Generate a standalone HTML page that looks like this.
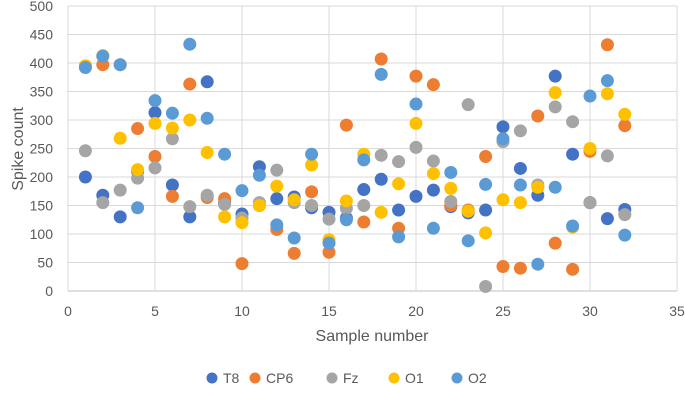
<!DOCTYPE html>
<html><head><meta charset="utf-8"><style>
body{margin:0;background:#fff;}
svg{display:block;font-family:"Liberation Sans",Arial,sans-serif;}
</style></head><body>
<svg id="chart" width="685" height="406">
<g id="grid"></g>
<g id="axes"></g>
<g id="marks"></g>
<text x="200" y="341" font-size="16" fill="#595959" text-anchor="middle" transform="translate(172,0)">Sample number</text>
<text x="0" y="0" font-size="16" fill="#595959" text-anchor="middle" transform="translate(23,149) rotate(-90)">Spike count</text>
<g id="legend"></g>
</svg>
<script>
const samples = [1,2,3,4,5,6,7,8,9,10,11,12,13,14,15,16,17,18,19,20,21,22,23,24,25,26,27,28,29,30,31,32];
const seriesNames = ["T8","CP6","Fz","O1","O2"];
const seriesColors = ["#4472C4","#ED7D31","#A5A5A5","#FFC000","#5B9BD5"];
const T8  = [200,168,130,210,313,186,130,367,155,135,218,162,165,146,138,128,178,196,142,166,177,148,137,142,288,215,168,377,240,155,127,143];
const CP6 = [395,397,397,285,236,166,363,164,162,48,150,108,66,174,68,291,121,407,110,377,362,150,142,236,43,40,307,84,38,245,432,290];
const Fz  = [246,155,177,198,216,267,148,168,152,128,155,212,155,150,126,145,150,238,227,252,228,157,327,8,262,281,186,323,297,155,237,134];
const O1  = [395,413,268,213,294,286,300,243,130,120,150,184,160,221,90,158,240,138,188,294,206,180,140,102,160,155,182,348,112,250,346,310];
const O2  = [392,412,397,146,334,312,433,303,240,176,203,116,93,240,84,125,230,380,95,328,110,208,88,187,267,186,47,182,114,342,369,98];
const xTicks = [0,5,10,15,20,25,30,35];
const yTicks = [0,50,100,150,200,250,300,350,400,450,500];
const allSeries = [T8,CP6,Fz,O1,O2];

const NS="http://www.w3.org/2000/svg";
const L=68,R=677,T=6,B=291;
const xs=v=>L+(v-0)/35*(R-L);
const ys=v=>B-(v/500)*(B-T);
function mk(tag,attrs,parent){const e=document.createElementNS(NS,tag);for(const k in attrs)e.setAttribute(k,attrs[k]);parent.appendChild(e);return e;}
const grid=document.getElementById('grid'),axes=document.getElementById('axes'),marks=document.getElementById('marks'),legend=document.getElementById('legend');
yTicks.forEach(v=>{
  const l=mk('line',{x1:L,x2:R,y1:ys(v),y2:ys(v),stroke:v===0?'#BFBFBF':'#D9D9D9','stroke-width':1},grid);
  
  
  const t=mk('text',{x:53,y:ys(v)+5,'font-size':14,fill:'#595959','text-anchor':'end'},axes);
  t.textContent=v;
  
  
});
xTicks.forEach(v=>{
  const l=mk('line',{x1:xs(v),x2:xs(v),y1:T,y2:B,stroke:'#D9D9D9','stroke-width':1},grid);
  
  
  const t=mk('text',{x:xs(v),y:316,'font-size':14,fill:'#595959','text-anchor':'middle'},axes);
  t.textContent=v;
  
  
});
allSeries.forEach((s,i)=>{
  s.forEach((v,j)=>{
    const c=mk('circle',{cx:xs(samples[j]),cy:ys(v),r:6.5,fill:seriesColors[i]},marks);
    
    
  });
});
const legX=[212,255,332,394,457];
seriesNames.forEach((n,i)=>{
  const c=mk('circle',{cx:legX[i],cy:378,r:5.5,fill:seriesColors[i]},legend);
  
  
  const t=mk('text',{x:legX[i]+11,y:383,'font-size':14,fill:'#595959'},legend);
  t.textContent=n;
  
  
});
</script>
</body></html>
